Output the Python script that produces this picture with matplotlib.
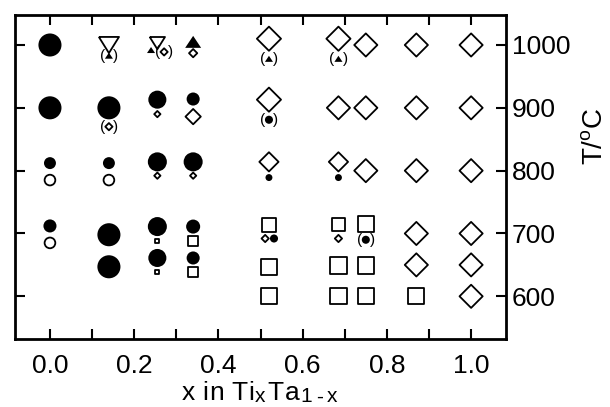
import matplotlib
matplotlib.use("Agg")
import matplotlib.pyplot as plt
import numpy as np

plt.rcParams["font.family"] = ["Liberation Sans", "DejaVu Sans"]
plt.rcParams["mathtext.fontset"] = "custom"
plt.rcParams["mathtext.rm"] = "Liberation Sans"
plt.rcParams["mathtext.it"] = "Liberation Sans"

# filled circles: composition x, temperature, symbol size (pt)
fc_x = [0.0, 0.0, 0.14, 0.255, 0.34, 0.0, 0.14, 0.255, 0.34, 0.0, 0.14, 0.255, 0.34,
        0.14, 0.255, 0.34, 0.52, 0.52, 0.685, 0.532, 0.75]
fc_t = [1000, 900, 900, 913, 914, 812, 812, 814, 814, 712, 698, 711, 711,
        647, 661, 661, 881, 789, 789, 692, 690]
fc_size = [16.6, 16.6, 16.6, 13.0, 9.4, 8.6, 8.6, 13.7, 13.7, 9.4, 16.6, 13.7, 10.1,
           16.6, 13.0, 9.4, 5.8, 5.0, 5.0, 5.8, 5.8]

# open circles
oc_x = [0.0, 0.14, 0.0]
oc_t = [785, 785, 685]
oc_size = [7.7, 7.7, 7.7]

# open diamonds
dm_x = [0.271, 0.34, 0.52, 0.685, 0.75, 0.87, 1.0,
        0.14, 0.255, 0.34, 0.52, 0.685, 0.75, 0.87, 1.0,
        0.255, 0.34, 0.52, 0.685, 0.75, 0.87, 1.0,
        0.511, 0.685, 0.87, 1.0,
        0.87, 1.0,
        1.0]
dm_t = [989, 987, 1010, 1010, 1000, 1000, 1000,
        870, 890, 886, 913, 900, 900, 900, 900,
        792, 792, 814, 814, 800, 800, 800,
        692, 692, 700, 700,
        650, 650,
        600]
dm_size = [3.7, 4.2, 12.3, 12.3, 11.8, 11.8, 11.8,
           3.7, 3.2, 7.8, 12.3, 11.8, 11.8, 11.8, 11.8,
           3.2, 3.2, 9.8, 9.8, 11.8, 11.8, 11.8,
           3.7, 3.7, 11.8, 11.8,
           11.8, 11.8,
           11.8]

# open squares
sq_x = [0.255, 0.34, 0.52, 0.685, 0.75, 0.255, 0.34, 0.52, 0.685, 0.75, 0.52, 0.685, 0.75, 0.87]
sq_t = [688, 688, 714, 714, 715, 639, 639, 647, 649, 649, 600, 600, 600, 600]
sq_size = [3.0, 7.3, 10.2, 9.5, 11.7, 3.0, 7.3, 11.7, 11.7, 11.7, 11.7, 11.7, 11.7, 11.7]

# open down triangles
td_x = [0.14, 0.255]
td_t = [1000, 1003]
td_size = [14.5, 11.0]

# filled up triangles
tu_x = [0.34, 0.14, 0.24, 0.52, 0.685]
tu_t = [1005, 983, 992, 978, 978]
tu_size = [11.5, 5.8, 5.8, 5.8, 5.8]

# bracketed (uncertain) symbols
par_x = [0.14, 0.271, 0.14, 0.52, 0.685, 0.52, 0.75]
par_t = [983, 989, 870, 978, 978, 881, 690]

tri_down = [(-1, 0.8), (1, 0.8), (0, -0.8), (-1, 0.8)]
tri_up = [(-1, -0.75), (1, -0.75), (0, 0.75), (-1, -0.75)]

fig = plt.figure(figsize=(6.1, 4.07), dpi=100)
ax = fig.add_axes([0.0246, 0.167, 0.805, 0.795])

ax.scatter(oc_x, oc_t, s=np.array(oc_size) ** 2, marker="o", facecolors="white",
           edgecolors="black", linewidths=1.3, zorder=3)
ax.scatter(dm_x, dm_t, s=np.array(dm_size) ** 2, marker="D", facecolors="white",
           edgecolors="black", linewidths=1.3, zorder=3)
ax.scatter(sq_x, sq_t, s=np.array(sq_size) ** 2, marker="s", facecolors="white",
           edgecolors="black", linewidths=1.3, zorder=3)
ax.scatter(td_x, td_t, s=np.array(td_size) ** 2, marker=tri_down, facecolors="white",
           edgecolors="black", linewidths=1.3, zorder=3)
ax.scatter(fc_x, fc_t, s=np.array(fc_size) ** 2, marker="o", color="black",
           linewidths=0, zorder=4)
ax.scatter(tu_x, tu_t, s=np.array(tu_size) ** 2, marker=tri_up, color="black",
           linewidths=0, zorder=4)

for x, t in zip(par_x, par_t):
    ax.annotate("(", (x, t), xytext=(-4.8, 0), textcoords="offset points",
                ha="center", va="center", fontsize=11)
    ax.annotate(")", (x, t), xytext=(4.8, 0), textcoords="offset points",
                ha="center", va="center", fontsize=11)

ax.set_xlim(-0.083, 1.083)
ax.set_ylim(532, 1047)
ax.set_xticks(np.arange(0, 1.01, 0.2))
ax.set_xticks(np.arange(0, 1.01, 0.1), minor=True)
ax.set_yticks([600, 700, 800, 900, 1000])
ax.set_xticklabels(["0.0", "0.2", "0.4", "0.6", "0.8", "1.0"])

ax.tick_params(which="both", direction="in", length=7, width=1.5, top=True, right=True,
               labelsize=19)
ax.tick_params(axis="x", pad=10.5)
ax.tick_params(axis="y", labelleft=False, labelright=True, pad=4)
for sp in ax.spines.values():
    sp.set_linewidth(2)

# x label written piece by piece (subscripts are large and widely spaced in the original)
renderer = fig.canvas.get_renderer()
pieces = [("x in Ti", 19, 0, 0.8), ("x", 15, -3, 1.8), ("Ta", 19, 0, 1.0), ("1-x", 15, -3, 4.0)]
xpos = 182
for s, fs, dy, track in pieces:
    for ch in s:
        if ch == " ":
            xpos += fs * 0.35
            continue
        t = fig.text(xpos, 7.5 + dy, ch, fontsize=fs, transform=None, ha="left", va="baseline")
        xpos = t.get_window_extent(renderer).x1 + track

fig.text(595 / 610, 1 - 136 / 407, r"T/$^{\mathrm{o}}$C", rotation=90,
         ha="center", va="center", fontsize=20)

fig.savefig("out.png", dpi=100)
